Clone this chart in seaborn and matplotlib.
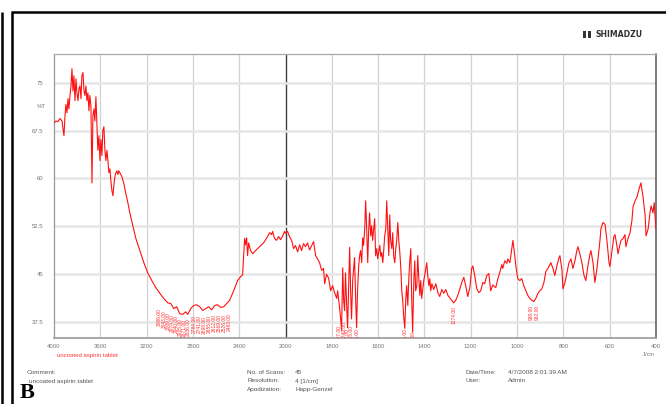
import numpy as np
import pandas as pd
import matplotlib
matplotlib.use("Agg")
import matplotlib.pyplot as plt
import seaborn as sns
from matplotlib.lines import Line2D
from matplotlib.patches import Rectangle
from matplotlib.ticker import FixedLocator, NullFormatter

# ---------------- data ----------------
wavenumber = [
    4000, 3983, 3966, 3948, 3931, 3914, 3905, 3897, 3888, 3879, 3871, 3862, 3853, 3845, 3836,
    3828, 3819, 3810, 3802, 3793, 3784, 3776, 3767, 3759, 3750, 3741, 3733, 3724, 3716, 3707,
    3698, 3690, 3681, 3672, 3664, 3655, 3647, 3638, 3629, 3621, 3612, 3603, 3595, 3586, 3578,
    3569, 3560, 3552, 3543, 3534, 3526, 3517, 3509, 3500, 3491, 3483, 3474, 3465, 3457, 3448,
    3440, 3431, 3414, 3397, 3379, 3362, 3345, 3319, 3293, 3259, 3224, 3190, 3155, 3121, 3086,
    3052, 3017, 2991, 2966, 2940, 2914, 2888, 2862, 2845, 2819, 2793, 2767, 2741, 2716, 2690,
    2664, 2638, 2612, 2586, 2560, 2534, 2509, 2483, 2448, 2414, 2388, 2371, 2362, 2353, 2345,
    2336, 2328, 2319, 2302, 2284, 2259, 2224, 2190, 2155, 2138, 2121, 2112, 2095, 2078, 2060,
    2043, 2026, 2009, 2000, 1991, 1983, 1974, 1965, 1957, 1948, 1939, 1931, 1922, 1914, 1905,
    1896, 1888, 1879, 1870, 1862, 1853, 1844, 1836, 1831, 1823, 1814, 1805, 1797, 1788, 1779,
    1775, 1767, 1762, 1758, 1753, 1749, 1745, 1741, 1736, 1732, 1728, 1723, 1719, 1715, 1710,
    1702, 1697, 1693, 1689, 1684, 1680, 1676, 1671, 1667, 1663, 1658, 1654, 1650, 1645, 1641,
    1637, 1632, 1628, 1624, 1619, 1615, 1611, 1606, 1602, 1598, 1593, 1589, 1585, 1580, 1576,
    1572, 1567, 1563, 1559, 1554, 1550, 1546, 1541, 1537, 1533, 1528, 1524, 1520, 1515, 1511,
    1507, 1502, 1498, 1494, 1490, 1485, 1481, 1477, 1472, 1468, 1464, 1459, 1455, 1451, 1446,
    1442, 1438, 1433, 1429, 1425, 1420, 1416, 1412, 1407, 1403, 1399, 1394, 1390, 1386, 1381,
    1377, 1373, 1368, 1360, 1351, 1342, 1334, 1325, 1317, 1308, 1299, 1291, 1282, 1274, 1265,
    1256, 1248, 1239, 1230, 1222, 1213, 1204, 1196, 1191, 1183, 1174, 1165, 1157, 1148, 1140,
    1131, 1122, 1114, 1105, 1092, 1083, 1075, 1066, 1062, 1053, 1044, 1040, 1031, 1023, 1018,
    1010, 1005, 997, 988, 980, 971, 962, 954, 945, 936, 928, 919, 910, 902, 893,
    884, 876, 867, 858, 854, 845, 837, 828, 819, 815, 806, 802, 793, 785, 776,
    767, 759, 750, 742, 737, 729, 720, 711, 703, 694, 685, 681, 672, 664, 655,
    646, 642, 638, 629, 620, 612, 603, 599, 590, 582, 577, 569, 564, 556, 551,
    542, 534, 530, 521, 512, 504, 499, 490, 482, 473, 465, 456, 447, 443, 434,
    426, 421, 413, 408, 404, 400,
]
transmittance = [
    68.7, 69.0, 68.9, 69.4, 69.0, 66.7, 69.8, 71.6, 70.3, 72.5, 70.9, 73.0, 74.5, 77.2, 73.7,
    76.1, 72.2, 75.6, 73.4, 72.2, 74.1, 74.5, 72.5, 76.1, 76.6, 73.7, 73.0, 74.5, 72.2, 73.4,
    70.6, 73.0, 71.4, 59.3, 69.8, 70.9, 69.0, 72.8, 68.3, 64.4, 66.7, 62.8, 66.1, 63.6, 67.5,
    68.1, 64.4, 62.8, 64.4, 62.8, 60.9, 61.5, 59.7, 58.1, 57.3, 58.9, 60.3, 60.9, 61.2, 60.6,
    61.2, 60.9, 60.3, 59.2, 57.6, 56.2, 54.6, 52.6, 50.6, 48.7, 46.8, 45.2, 44.0, 42.9, 42.0,
    41.2, 40.5, 40.4, 39.6, 39.9, 38.8, 38.7, 39.1, 38.7, 39.6, 40.1, 40.2, 39.9, 39.3, 39.6,
    39.9, 39.4, 40.1, 40.2, 39.8, 39.9, 40.4, 40.9, 42.4, 44.0, 44.6, 44.9, 47.9, 50.6, 49.6,
    50.7, 47.9, 49.9, 48.7, 48.2, 48.7, 49.3, 49.9, 50.9, 51.5, 51.2, 51.7, 50.6, 50.3, 50.9,
    50.4, 50.9, 51.7, 51.4, 51.7, 50.9, 50.3, 49.0, 49.5, 48.5, 49.6, 48.7, 49.8, 49.3, 49.9,
    48.8, 49.4, 50.1, 47.9, 47.4, 46.8, 45.6, 45.9, 43.5, 45.0, 44.4, 42.4, 43.2, 42.1, 41.2,
    42.4, 39.9, 38.0, 36.2, 46.0, 40.9, 39.3, 45.2, 40.1, 36.6, 42.4, 49.2, 42.4, 38.0, 44.0,
    47.6, 40.9, 36.6, 42.4, 46.3, 47.9, 48.7, 46.8, 50.7, 49.5, 52.1, 56.5, 52.6, 46.8, 51.8,
    54.6, 51.0, 52.6, 50.3, 52.1, 53.7, 47.9, 49.0, 47.4, 48.4, 49.5, 47.8, 48.4, 46.8, 48.7,
    50.9, 52.1, 56.5, 52.6, 47.9, 54.3, 50.3, 49.0, 51.5, 47.9, 46.8, 49.0, 50.3, 53.1, 50.3,
    48.7, 45.9, 42.4, 40.9, 38.5, 36.5, 40.9, 43.2, 40.1, 44.0, 46.8, 49.0, 40.9, 35.9, 44.0,
    47.1, 42.4, 43.2, 47.9, 44.8, 41.7, 44.0, 41.2, 42.7, 44.0, 44.8, 45.9, 46.8, 44.8, 43.2,
    44.3, 42.4, 43.5, 42.6, 43.5, 42.1, 41.5, 42.6, 42.0, 42.6, 41.7, 41.3, 40.9, 40.5, 40.9,
    41.7, 42.6, 43.7, 44.5, 43.2, 41.5, 42.9, 45.9, 46.3, 44.8, 42.7, 42.1, 42.4, 43.7, 43.5,
    44.8, 45.1, 42.4, 43.3, 42.9, 44.3, 45.2, 46.5, 45.9, 47.1, 46.7, 47.4, 46.8, 49.0, 50.3,
    47.9, 46.2, 44.3, 44.0, 44.3, 43.2, 42.4, 41.7, 41.2, 40.9, 40.7, 41.2, 42.0, 42.4, 42.7,
    43.7, 45.4, 45.9, 46.5, 46.8, 45.9, 44.8, 46.3, 47.6, 47.9, 45.6, 42.7, 43.7, 45.2, 46.8,
    47.4, 45.9, 47.1, 48.7, 49.3, 48.2, 46.8, 44.8, 44.0, 46.3, 48.2, 48.7, 46.8, 43.7, 45.9,
    49.0, 50.3, 52.1, 53.1, 52.8, 50.3, 46.8, 46.2, 48.7, 50.9, 51.2, 49.5, 48.2, 49.6, 50.3,
    50.6, 51.2, 49.3, 50.6, 51.5, 53.4, 55.6, 56.5, 57.1, 58.4, 59.3, 57.1, 54.2, 51.0, 52.1,
    54.6, 55.7, 54.6, 56.2, 54.2, 52.1,
]

# peak-pick labels (wavenumber, %T where the label starts)
peak_wn = [3086, 3043, 3009, 2974, 2940, 2905, 2871, 2836, 2784, 2741, 2698, 2655, 2612,
           2569, 2526, 2483, 1767, 1749, 1732, 1715, 1693, 1485, 1451, 1274, 938, 912]
peak_T = [39.6, 39.4, 39.0, 38.8, 38.6, 38.1, 37.9, 38.1, 38.6, 38.6, 38.4, 38.6, 38.8,
          38.8, 38.8, 38.9, 37.0, 37.6, 36.6, 37.0, 36.6, 36.6, 36.1, 40.0, 40.2, 40.2]

x_major = [4000, 3600, 3200, 2800, 2400, 2000, 1800, 1600, 1400, 1200, 1000, 800, 600, 400]
y_major = [37.5, 45, 52.5, 60, 67.5, 75]
y_labels = ["37.5", "45", "52.5", "60", "67.5", "75"]

sample_name = "uncoated aspirin tablet"

# ---------------- figure ----------------
sns.set_style("white")
plt.rcParams["font.family"] = ["Liberation Sans", "DejaVu Sans"]

W, H = 666, 404
fig = plt.figure(figsize=(W / 100, H / 100), dpi=100)
ax = fig.add_axes([54 / W, 1 - 338 / H, (656 - 54) / W, (338 - 54) / H])


def fwd(x):
    x = np.asarray(x, dtype=float)
    return np.where(x > 2000, 2000 + (x - 2000) / 2.0, x)


def inv(u):
    u = np.asarray(u, dtype=float)
    return np.where(u > 2000, 2000 + 2.0 * (u - 2000), u)


ax.set_xscale("function", functions=(fwd, inv))

df = pd.DataFrame({"wn": wavenumber, "T": transmittance})
sns.lineplot(data=df, x="wn", y="T", sort=False, estimator=None, color="#ff1010",
             linewidth=0.8, ax=ax, zorder=3)

ax.set_xlim(4000, 400)
ax.set_ylim(35, 79.5)
ax.set_xlabel("")
ax.set_ylabel("")

# grid
for xv in x_major[1:-1]:
    if xv == 2000:
        ax.axvline(xv, color="#404040", lw=1.0, zorder=1)
    else:
        ax.axvline(xv, color="#d2d2d2", lw=0.9, zorder=1)
for yv in y_major:
    ax.axhline(yv, color="#e6e6e6", lw=1.8, zorder=1)

# ticks
x_minor = [v for v in np.arange(4000, 2000, -80) if v not in x_major] + \
          [v for v in np.arange(2000, 399, -40) if v not in x_major]
ax.xaxis.set_major_locator(FixedLocator(x_major))
ax.xaxis.set_minor_locator(FixedLocator(x_minor))
ax.set_xticklabels([str(v) for v in x_major])
ax.xaxis.set_minor_formatter(NullFormatter())
ax.yaxis.set_major_locator(FixedLocator(y_major))
ax.set_yticklabels(y_labels)
ax.yaxis.set_minor_locator(FixedLocator(list(np.arange(36.0, 79.6, 1.5))))
ax.yaxis.set_minor_formatter(NullFormatter())

ax.tick_params(axis="x", which="major", direction="inout", length=5, width=0.7,
               color="#777777", labelsize=4.3, labelcolor="#777777", pad=2)
ax.tick_params(axis="x", which="minor", direction="inout", length=3.5, width=0.6,
               color="#777777")
ax.tick_params(axis="y", which="major", direction="out", length=6, width=0.7,
               color="#888888", labelsize=4.3, labelcolor="#777777", pad=1.5)
ax.tick_params(axis="y", which="minor", direction="out", length=3.5, width=0.6,
               color="#999999")

for side, col, lw in [("left", "#999999", 0.9), ("top", "#aaaaaa", 0.9),
                      ("bottom", "#999999", 1.2), ("right", "#555555", 1.1)]:
    ax.spines[side].set_color(col)
    ax.spines[side].set_linewidth(lw)
    ax.spines[side].set_visible(True)

# peak labels
for pw, pt in zip(peak_wn, peak_T):
    t = ax.text(pw, pt, f"{pw:.2f}", rotation=90, fontsize=3.5, color="#ff3030",
                ha="center", va="top", zorder=4)
    t.set_clip_on(True)

# axis annotations
fig.text(37 / W, 1 - 106 / H, "%T", fontsize=4.3, color="#777777", ha="left", va="center")
fig.text(643 / W, 1 - 354 / H, "1/cm", fontsize=4, color="#777777", ha="left", va="center")
fig.text(57 / W, 1 - 355 / H, sample_name, fontsize=4.3, color="#ff3333", ha="left",
         va="center")

# info block
info_kw = dict(fontsize=4.6, color="#555555", ha="left", va="center")
fig.text(27 / W, 1 - 372 / H, "Comment:", **info_kw)
fig.text(29 / W, 1 - 381 / H, sample_name, **info_kw)
fig.text(247 / W, 1 - 372 / H, "No. of Scans:", **info_kw)
fig.text(295 / W, 1 - 372 / H, "45", **info_kw)
fig.text(247 / W, 1 - 381 / H, "Resolution:", **info_kw)
fig.text(295 / W, 1 - 381 / H, "4 [1/cm]", **info_kw)
fig.text(247 / W, 1 - 390 / H, "Apodization:", **info_kw)
fig.text(295 / W, 1 - 390 / H, "Happ-Genzel", **info_kw)
fig.text(466 / W, 1 - 372 / H, "Date/Time:", **info_kw)
fig.text(508 / W, 1 - 372 / H, "4/7/2008 2:01:39 AM", **info_kw)
fig.text(466 / W, 1 - 381 / H, "User:", **info_kw)
fig.text(508 / W, 1 - 381 / H, "Admin", **info_kw)

fig.text(20 / W, 1 - 403 / H, "B", fontsize=16, fontweight="bold",
         family=["Liberation Serif", "DejaVu Serif"], color="black", ha="left", va="bottom")

# logo
fig.add_artist(Rectangle((583 / W, 1 - 38 / H), 3 / W, 7 / H, transform=fig.transFigure,
                         facecolor="#333333", edgecolor="none"))
fig.add_artist(Rectangle((587.5 / W, 1 - 38 / H), 3 / W, 7 / H, transform=fig.transFigure,
                         facecolor="#333333", edgecolor="none"))
fig.text(595 / W, 1 - 34.5 / H, "SHIMADZU", fontsize=5.6, fontweight="bold",
         color="#333333", ha="left", va="center", family=["DejaVu Sans"])

# frame
frame_kw = dict(transform=fig.transFigure, color="black", lw=1.8, solid_capstyle="butt")
fig.add_artist(Line2D([2 / W, 2 / W], [1 - 12 / H, 0], **frame_kw))
fig.add_artist(Line2D([12 / W, 12 / W], [1 - 12 / H, 0], **frame_kw))
fig.add_artist(Line2D([11 / W, 1], [1 - 12 / H, 1 - 12 / H], **frame_kw))

fig.savefig("out.png", dpi=100)
